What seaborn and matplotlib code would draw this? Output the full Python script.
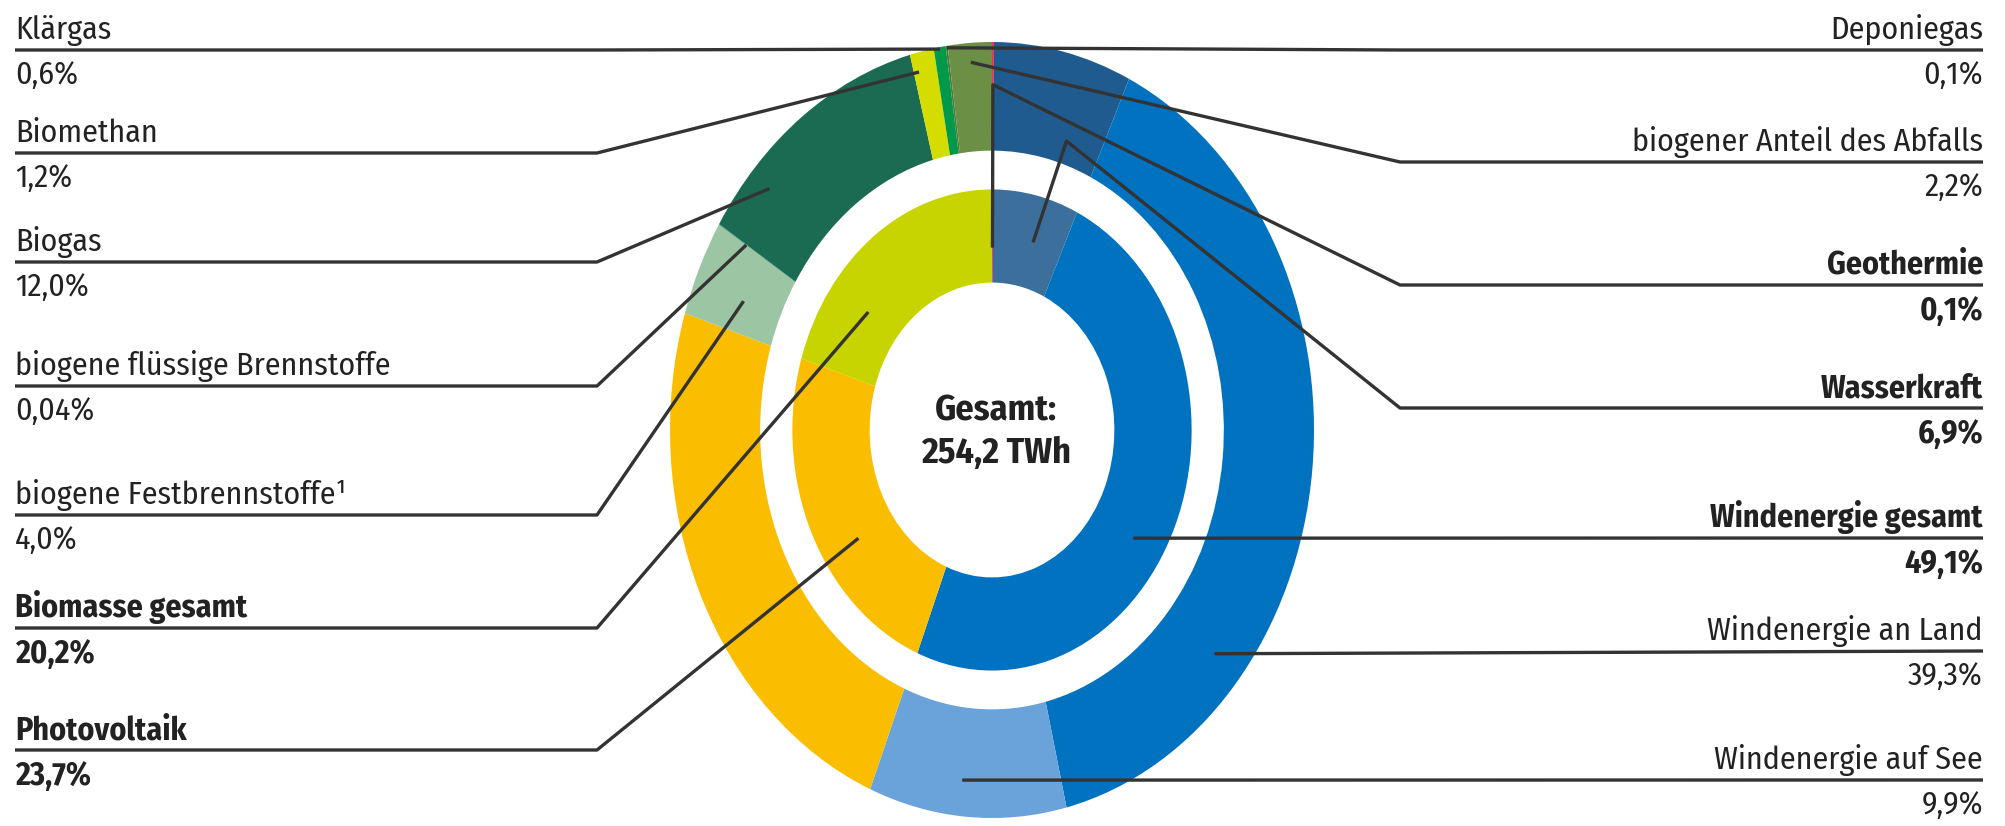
import numpy as np
import seaborn as sns
from matplotlib import pyplot as plt

# outer ring, clockwise from 12 o'clock
outer_labels = ['Geothermie', 'Wasserkraft', 'Windenergie an Land', 'Windenergie auf See',
                'Photovoltaik', 'biogene Festbrennstoffe¹', 'biogene flüssige Brennstoffe',
                'Biogas', 'Biomethan', 'Klärgas', 'Deponiegas', 'biogener Anteil des Abfalls']
outer_values = [0.1, 6.9, 39.3, 9.9, 23.7, 4.0, 0.04, 12.0, 1.2, 0.6, 0.1, 2.2]
outer_colors = ['#e8375a', '#1f5b8e', '#0072bf', '#6aa3d9', '#fbbd00', '#9cc6a3',
                '#5c9c7c', '#1b6b52', '#d4dc00', '#00994a', '#4c7a3a', '#6b8f45']

# inner ring
inner_labels = ['Geothermie', 'Wasserkraft', 'Windenergie gesamt', 'Photovoltaik', 'Biomasse gesamt']
inner_values = [0.1, 6.9, 49.1, 23.7, 20.2]
inner_colors = ['#e8375a', '#3c6f9c', '#0072bf', '#fbbd00', '#c8d400']

total_twh = '254,2'

bold_labels = ['Geothermie', 'Wasserkraft', 'Windenergie gesamt', 'Biomasse gesamt', 'Photovoltaik']

# callouts: (label, row y px, [(ring, pos inside wedge, radius), ...])
left_callouts = [
    ('Klärgas', 50, [('outer', 0.5, 0.995)]),
    ('Biomethan', 153, [('outer', 0.22, 0.95)]),
    ('Biogas', 262, [('outer', 0.23, 0.93)]),
    ('biogene flüssige Brennstoffe', 386, [('outer', 0.5, 0.90)]),
    ('biogene Festbrennstoffe¹', 515, [('outer', 0.4, 0.84)]),
    ('Biomasse gesamt', 628, [('inner', 0.29, 0.49)]),
    ('Photovoltaik', 750, [('inner', 0.4, 0.50)]),
]
right_callouts = [
    ('Deponiegas', 50, [('outer', 0.5, 0.995)]),
    ('biogener Anteil des Abfalls', 162, [('outer', 0.5, 0.95)]),
    ('Geothermie', 285, [('outer', 0.5, 0.89), ('inner', 0.5, 0.47)]),
    ('Wasserkraft', 408, [('outer', 0.68, 0.78), ('inner', 0.58, 0.50)]),
    ('Windenergie gesamt', 538, [('inner', 0.55, 0.52)]),
    ('Windenergie an Land', 651, [('outer', 0.74, 0.90)]),
    ('Windenergie auf See', 780, [('outer', 0.54, 0.907)]),
]
no_knee = ['Windenergie gesamt', 'Windenergie an Land', 'Windenergie auf See']

sns.set_theme(style='white')
plt.rcParams['font.family'] = ['Fira Sans Condensed', 'DejaVu Sans']

W, H = 2006, 826
fig = plt.figure(figsize=(W / 100, H / 100), dpi=100)

# donut is an ellipse in the original, so the pie axes is not square
cx, cy, rx, ry = 992, 430, 322, 388
pie_ax = fig.add_axes([(cx - rx) / W, (H - cy - ry) / H, 2 * rx / W, 2 * ry / H])
pie_ax.pie(outer_values, colors=outer_colors, startangle=90, counterclock=False,
           radius=1.0, wedgeprops=dict(width=0.28, linewidth=0))
pie_ax.pie(inner_values, colors=inner_colors, startangle=90, counterclock=False,
           radius=0.62, wedgeprops=dict(width=0.24, linewidth=0))
pie_ax.set_aspect('auto')
pie_ax.set_xlim(-1, 1)
pie_ax.set_ylim(-1, 1)
pie_ax.axis('off')

ax = fig.add_axes([0, 0, 1, 1], zorder=5)
ax.set_xlim(0, W)
ax.set_ylim(H, 0)
ax.patch.set_alpha(0)
ax.axis('off')


def anchor(ring, name, pos, r):
    labels, values = (outer_labels, outer_values) if ring == 'outer' else (inner_labels, inner_values)
    vals = np.array(values, dtype=float)
    start = np.concatenate([[0], np.cumsum(vals)[:-1]]) / vals.sum()
    i = labels.index(name)
    frac = start[i] + pos * vals[i] / vals.sum()
    theta = 2 * np.pi * frac
    pt = pie_ax.transData.transform((r * np.sin(theta), r * np.cos(theta)))
    return ax.transData.inverted().transform(pt)


def fmt(v):
    s = f'{v:.2f}' if v < 0.1 else f'{v:.1f}'
    return s.replace('.', ',') + '%'


value_of = dict(zip(outer_labels, outer_values))
value_of.update(dict(zip(inner_labels, inner_values)))

line_kw = dict(color='#333333', lw=2.4, solid_capstyle='butt', zorder=3)
txt_kw = dict(fontsize=23, color='#222222')

for side, callouts, x_text, x_knee in [('left', left_callouts, 15, 597),
                                       ('right', right_callouts, 1983, 1400)]:
    for name, row, targets in callouts:
        pts = [anchor(ring, name, pos, r) for ring, pos, r in targets]
        if name in no_knee:
            path = [(x_text, row)] + [tuple(p) for p in pts]
        else:
            path = [(x_text, row), (x_knee, row)] + [tuple(p) for p in pts]
        xs, ys = zip(*path)
        ax.plot(xs, ys, **line_kw)
        weight = 'bold' if name in bold_labels else 'normal'
        ha = 'left' if side == 'left' else 'right'
        ax.text(x_text, row - 11, name, ha=ha, va='baseline', fontweight=weight, **txt_kw)
        ax.text(x_text, row + 10, fmt(value_of[name]), ha=ha, va='top', fontweight=weight, **txt_kw)

ax.text(cx + 4, cy + 2, f'Gesamt:\n{total_twh} TWh', ha='center', va='center',
        fontsize=26, fontweight='bold', color='#222222', linespacing=1.25)

fig.savefig('out.png', dpi=100)
